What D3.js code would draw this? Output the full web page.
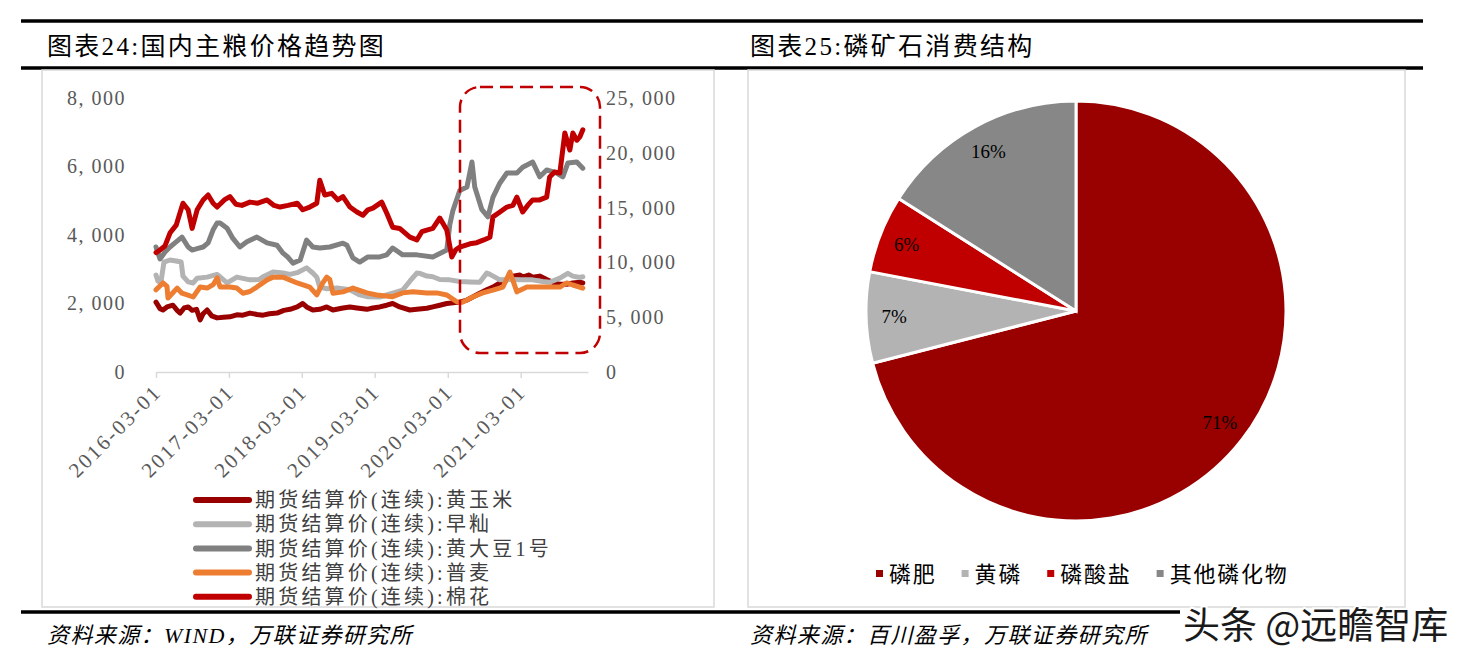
<!DOCTYPE html>
<html><head><meta charset="utf-8">
<script src="https://cdn.jsdelivr.net/npm/d3@7"></script>
<style>
body{margin:0;background:#fff;}
svg{display:block;}
</style></head><body>
<svg id="c" width="1470" height="661"></svg>
<script>
// ---------------- DATA ----------------
const seriesLabels = ["期货结算价(连续):黄玉米","期货结算价(连续):早籼","期货结算价(连续):黄大豆1号","期货结算价(连续):普麦","期货结算价(连续):棉花"];
const seriesColors = ["#990000","#B3B3B3","#808080","#ED7D31","#C00000"];
const seriesAxis = ["left","left","left","left","right"];

const cornData = [["2016-03-01",2040],["2016-03-21",1850],["2016-04-05",1810],["2016-04-25",1900],["2016-05-25",1950],["2016-06-15",1800],["2016-06-30",1720],["2016-07-20",1870],["2016-08-09",1900],["2016-08-29",1800],["2016-09-20",1830],["2016-10-08",1520],["2016-10-23",1700],["2016-11-12",1810],["2016-12-05",1640],["2017-01-01",1580],["2017-02-01",1600],["2017-03-06",1610],["2017-04-10",1670],["2017-05-10",1660],["2017-06-14",1720],["2017-07-20",1680],["2017-08-19",1660],["2017-09-20",1700],["2017-10-28",1720],["2017-12-01",1800],["2018-01-01",1830],["2018-02-06",1900],["2018-03-06",2000],["2018-03-25",1900],["2018-04-25",1810],["2018-05-30",1830],["2018-07-04",1900],["2018-08-04",1810],["2018-09-23",1870],["2018-10-28",1900],["2018-12-02",1870],["2019-01-21",1830],["2019-02-20",1870],["2019-03-26",1900],["2019-04-30",1950],["2019-05-30",2000],["2019-07-04",1900],["2019-08-24",1810],["2019-09-28",1830],["2019-11-17",1860],["2019-12-17",1900],["2020-01-21",1950],["2020-02-25",2000],["2020-04-30",2040],["2020-06-05",2100],["2020-07-04",2190],["2020-08-08",2300],["2020-09-12",2400],["2020-10-13",2480],["2020-11-17",2600],["2020-12-22",2690],["2021-01-21",2800],["2021-02-25",2830],["2021-03-11",2770],["2021-04-10",2830],["2021-04-30",2770],["2021-06-04",2800],["2021-07-09",2700],["2021-08-08",2620],["2021-09-13",2560],["2021-10-18",2560],["2021-11-17",2600],["2021-12-22",2620],["2022-01-06",2600]];

const riceData = [["2016-03-01",2830],["2016-03-11",2650],["2016-03-25",2600],["2016-04-10",3210],["2016-05-10",3270],["2016-06-10",3240],["2016-07-05",3210],["2016-07-14",2800],["2016-08-09",2630],["2016-09-03",2600],["2016-09-23",2740],["2016-11-12",2770],["2017-01-01",2850],["2017-02-20",2600],["2017-04-10",2770],["2017-06-14",2690],["2017-07-30",2700],["2017-08-19",2780],["2017-10-08",2920],["2017-11-27",2890],["2018-01-01",2850],["2018-02-06",2900],["2018-03-25",3040],["2018-04-25",2890],["2018-05-15",2770],["2018-05-30",2480],["2018-07-04",2430],["2018-08-24",2450],["2018-10-28",2400],["2018-12-16",2250],["2019-01-21",2200],["2019-03-26",2190],["2019-05-30",2300],["2019-07-19",2390],["2019-08-24",2650],["2019-09-28",2890],["2019-10-13",2880],["2019-11-17",2800],["2019-12-17",2780],["2020-01-21",2700],["2020-03-11",2690],["2020-04-30",2640],["2020-06-20",2630],["2020-08-08",2620],["2020-09-12",2890],["2020-09-28",2850],["2020-11-17",2690],["2021-01-06",2700],["2021-02-25",2690],["2021-04-30",2690],["2021-06-19",2640],["2021-07-24",2620],["2021-09-13",2740],["2021-10-23",2880],["2021-11-17",2800],["2021-12-22",2760],["2022-01-06",2780]];

const soyData = [["2016-03-01",3650],["2016-03-21",3300],["2016-04-15",3500],["2016-05-10",3650],["2016-06-10",3800],["2016-07-09",3940],["2016-08-09",3650],["2016-08-29",3560],["2016-09-23",3600],["2016-10-23",3650],["2016-11-17",3770],["2016-12-12",4150],["2017-01-01",4350],["2017-01-16",4350],["2017-02-20",4200],["2017-03-21",3900],["2017-04-25",3650],["2017-05-30",3800],["2017-07-19",3940],["2017-09-08",3770],["2017-10-28",3700],["2017-11-27",3470],["2017-12-22",3350],["2018-01-16",3180],["2018-02-21",3270],["2018-03-25",3850],["2018-04-25",3650],["2018-05-30",3620],["2018-07-19",3650],["2018-09-23",3760],["2018-10-13",3700],["2018-11-12",3330],["2018-12-16",3210],["2019-01-26",3360],["2019-03-26",3360],["2019-04-30",3420],["2019-05-30",3620],["2019-07-19",3420],["2019-09-28",3420],["2019-12-17",3360],["2020-02-25",3560],["2020-03-11",4300],["2020-03-26",4700],["2020-04-30",5300],["2020-06-05",5400],["2020-06-30",6130],["2020-07-14",5400],["2020-08-18",4750],["2020-09-18",4530],["2020-10-13",5100],["2020-11-17",5520],["2020-12-22",5810],["2021-02-10",5810],["2021-03-11",5980],["2021-04-30",6130],["2021-06-04",5700],["2021-07-09",5900],["2021-08-28",5810],["2021-09-28",5700],["2021-10-23",6100],["2021-12-07",6130],["2022-01-06",5950]];

const wheatData = [["2016-03-01",2400],["2016-04-05",2600],["2016-04-25",2500],["2016-04-30",2160],["2016-06-15",2450],["2016-07-09",2300],["2016-08-04",2250],["2016-09-03",2190],["2016-10-08",2480],["2016-11-12",2450],["2016-12-12",2550],["2017-01-01",2745],["2017-01-16",2480],["2017-03-06",2480],["2017-04-10",2450],["2017-05-10",2300],["2017-06-14",2350],["2017-07-19",2480],["2017-09-08",2690],["2017-10-08",2770],["2017-11-27",2770],["2018-02-06",2600],["2018-04-10",2480],["2018-05-15",2250],["2018-06-14",2600],["2018-07-04",2770],["2018-07-19",2700],["2018-08-04",2300],["2018-09-23",2340],["2018-11-12",2450],["2019-01-21",2310],["2019-03-11",2250],["2019-05-30",2200],["2019-07-19",2310],["2019-09-08",2340],["2019-11-17",2310],["2020-01-06",2310],["2020-02-25",2250],["2020-04-15",2050],["2020-05-15",2040],["2020-07-04",2190],["2020-08-23",2310],["2020-10-13",2390],["2020-12-02",2480],["2021-01-06",2920],["2021-02-10",2340],["2021-04-01",2480],["2021-06-19",2480],["2021-09-13",2480],["2021-10-18",2600],["2021-11-17",2540],["2022-01-06",2450]];

const cottonData = [["2016-03-01",10900],["2016-03-21",11130],["2016-04-15",11500],["2016-05-10",12680],["2016-06-10",13400],["2016-07-14",15400],["2016-08-09",14800],["2016-08-29",13100],["2016-09-23",14800],["2016-10-23",15700],["2016-11-17",16150],["2016-12-12",15400],["2017-01-01",15050],["2017-02-06",15700],["2017-03-06",16000],["2017-04-05",15300],["2017-05-05",15200],["2017-06-14",15500],["2017-07-24",15400],["2017-09-08",15700],["2017-10-13",15200],["2017-11-12",15050],["2017-12-22",15200],["2018-02-06",15400],["2018-03-06",14800],["2018-04-10",15050],["2018-05-15",15400],["2018-05-30",17500],["2018-06-24",16150],["2018-07-29",16300],["2018-08-28",15700],["2018-09-23",16000],["2018-10-28",15050],["2018-12-02",14600],["2019-01-01",14300],["2019-01-26",14800],["2019-02-20",14950],["2019-04-05",15500],["2019-04-30",14500],["2019-05-30",13200],["2019-07-04",13100],["2019-08-24",12300],["2019-09-28",12050],["2019-10-23",12800],["2019-11-17",12950],["2019-12-17",13100],["2020-01-21",14050],["2020-02-25",12950],["2020-03-21",10500],["2020-04-10",11150],["2020-04-30",11400],["2020-06-20",11700],["2020-07-24",11800],["2020-08-28",12050],["2020-09-28",12300],["2020-10-13",14150],["2020-11-17",14600],["2020-12-22",15050],["2021-01-21",15200],["2021-02-10",15950],["2021-03-11",14600],["2021-04-05",15200],["2021-04-30",15700],["2021-06-04",15700],["2021-07-09",15950],["2021-07-24",17800],["2021-08-18",18250],["2021-09-13",18150],["2021-10-08",21800],["2021-11-02",20250],["2021-11-17",21800],["2021-12-07",21150],["2021-12-22",21450],["2022-01-06",22100]];

const seriesData = [cornData, riceData, soyData, wheatData, cottonData];

const leftTicks = [0,2000,4000,6000,8000];
const rightTicks = [0,5000,10000,15000,20000,25000];
const xTickDates = ["2016-03-01","2017-03-01","2018-03-01","2019-03-01","2020-03-01","2021-03-01"];
const xDomain = ["2016-03-01","2022-02-01"];

const pieCategories = ["磷肥","黄磷","磷酸盐","其他磷化物"];
const pieValues = [71,7,6,16];
const pieColors = ["#990000","#B3B3B3","#C00000","#878787"];

const titles = ["图表24:国内主粮价格趋势图","图表25:磷矿石消费结构"];
const sources = ["资料来源：WIND，万联证券研究所","资料来源：百川盈孚，万联证券研究所"];
const watermark = "头条 @远瞻智库";

// ---------------- DRAW ----------------
const FONT = '"Liberation Serif","Noto Sans CJK SC",serif';
const CJK = '"Noto Sans CJK SC",sans-serif';
const svg = d3.select("#c");
const parse = d3.timeParse("%Y-%m-%d");

// frame lines
[[21,1423,21],[21,1423,68],[21,1180,612]].forEach(([x1,x2,y])=>{
  svg.append("line").attr("x1",x1).attr("x2",x2).attr("y1",y).attr("y2",y)
    .attr("stroke","#000").attr("stroke-width",3.5);
});
// chart boxes
svg.append("rect").attr("x",42).attr("y",70).attr("width",672).attr("height",537)
  .attr("fill","none").attr("stroke","#D9D9D9").attr("stroke-width",1.5);
svg.append("rect").attr("x",748).attr("y",70).attr("width",657).attr("height",537)
  .attr("fill","none").attr("stroke","#D9D9D9").attr("stroke-width",1.5);

// titles
[[47,titles[0]],[750,titles[1]]].forEach(([x,t])=>{
  svg.append("text").attr("x",x).attr("y",55).attr("font-family",FONT)
    .attr("font-size",25).attr("letter-spacing",2.3).attr("fill","#000").text(t);
});
// sources
[[47,sources[0]],[750,sources[1]]].forEach(([x,t])=>{
  svg.append("text").attr("x",x).attr("y",643).attr("font-family",FONT)
    .attr("font-size",22).attr("font-style","italic").attr("letter-spacing",1.4)
    .attr("fill","#000").text(t);
});

// ---- line chart ----
const x = d3.scaleTime().domain(xDomain.map(parse)).range([156,588]);
const yL = d3.scaleLinear().domain([0,8000]).range([372,98]);
const yR = d3.scaleLinear().domain([0,25000]).range([372,98]);
const fmt = v => d3.format(",")(v).replace(",", ", ");

const gL = svg.append("g").attr("transform","translate(129,0)")
  .call(d3.axisLeft(yL).tickValues(leftTicks).tickSize(0).tickPadding(3).tickFormat(fmt));
const gR = svg.append("g").attr("transform","translate(603,0)")
  .call(d3.axisRight(yR).tickValues(rightTicks).tickSize(0).tickPadding(3).tickFormat(fmt));
[gL,gR].forEach(g=>{
  g.select(".domain").remove();
  g.selectAll("text").attr("font-family",FONT).attr("font-size",20)
    .attr("letter-spacing",1.5).attr("fill","#595959");
});

const gX = svg.append("g").attr("transform","translate(0,372)")
  .call(d3.axisBottom(x).tickValues(xTickDates.map(parse)).tickSize(6).tickSizeOuter(0)
    .tickFormat(d3.timeFormat("%Y-%m-%d")));
gX.select(".domain").attr("stroke","#D9D9D9").attr("stroke-width",1.5);
gX.selectAll(".tick line").attr("stroke","#D9D9D9").attr("stroke-width",1.5);
gX.selectAll("text").attr("font-family",FONT).attr("font-size",21).attr("letter-spacing",2.3)
  .attr("fill","#595959").attr("text-anchor","end").attr("x",0).attr("y",0).attr("dy","0.35em")
  .attr("transform","translate(1,16) rotate(-45)");

// lines
const line = axis => d3.line().x(d=>x(parse(d[0]))).y(d=>(axis==="left"?yL:yR)(d[1]));
seriesData.forEach((data,i)=>{
  svg.append("path").datum(data).attr("d",line(seriesAxis[i]))
    .attr("fill","none").attr("stroke",seriesColors[i]).attr("stroke-width",5)
    .attr("stroke-linejoin","round").attr("stroke-linecap","round");
});

// dashed highlight
svg.append("rect").attr("x",460).attr("y",87).attr("width",140).attr("height",266).attr("rx",20)
  .attr("fill","none").attr("stroke","#C00000").attr("stroke-width",2.5).attr("stroke-dasharray","13,7");

// legend
seriesLabels.forEach((lab,i)=>{
  const y = 500 + i*24.2;
  svg.append("line").attr("x1",196).attr("x2",249).attr("y1",y).attr("y2",y)
    .attr("stroke",seriesColors[i]).attr("stroke-width",6).attr("stroke-linecap","round");
  svg.append("text").attr("x",255).attr("y",y).attr("dy","0.36em").attr("font-family",FONT)
    .attr("font-size",20).attr("letter-spacing",3.2).attr("fill","#404040").text(lab);
});

// ---- pie ----
const cx = 1076, cy = 311, R = 210;
const pie = d3.pie().sort(null).value(d=>d);
const arcs = pie(pieValues);
const arc = d3.arc().innerRadius(0).outerRadius(R);
const labelArc = d3.arc().innerRadius(182).outerRadius(182);
const gP = svg.append("g").attr("transform",`translate(${cx},${cy})`);
gP.selectAll("path").data(arcs).enter().append("path").attr("d",arc)
  .attr("fill",(d,i)=>pieColors[i]).attr("stroke","#fff").attr("stroke-width",3);
gP.selectAll("text").data(arcs).enter().append("text")
  .attr("transform",d=>`translate(${labelArc.centroid(d)})`)
  .attr("text-anchor","middle").attr("dy","0.35em").attr("font-family",FONT)
  .attr("font-size",19).attr("fill","#000").text(d=>d.value+"%");

// pie legend
let lx = 876;
pieCategories.forEach((c,i)=>{
  svg.append("rect").attr("x",lx).attr("y",570).attr("width",7).attr("height",7).attr("fill",pieColors[i]);
  const t = svg.append("text").attr("x",lx+13).attr("y",574).attr("dy","0.36em").attr("font-family",FONT)
    .attr("font-size",22).attr("letter-spacing",1.8).attr("fill","#000").text(c);
  lx = lx + 13 + t.node().getComputedTextLength() + 25;
});

// watermark
svg.append("text").attr("x",1183).attr("y",639).attr("font-family",CJK).attr("font-size",37)
  .attr("fill","#1a1a1a").attr("stroke","#fff").attr("stroke-width",4).attr("paint-order","stroke")
  .text(watermark);
</script>
</body></html>
